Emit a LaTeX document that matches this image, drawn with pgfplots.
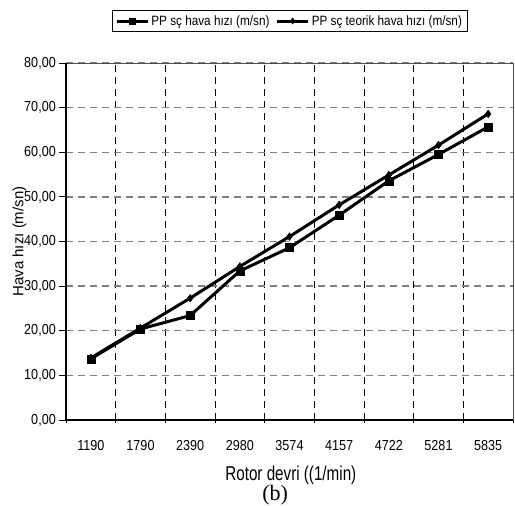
\documentclass[border=0pt]{standalone}
\usepackage{pgfplots}
\pgfplotsset{compat=1.18}
\usepackage{fontspec}
\setmainfont{Liberation Sans}[FakeStretch=0.87]
\newfontfamily\plainsans{Liberation Sans}
\newfontfamily\serifb{Liberation Serif}

\begin{document}
\begin{tikzpicture}
\useasboundingbox (-66pt,-86pt) rectangle (449pt,420pt);
\begin{axis}[
  width=447pt, height=357pt, scale only axis,
  clip=false,
  xmin=-0.5, xmax=8.5,
  ymin=0, ymax=80,
  xtick={-0.5,0.5,...,8.5},
  xticklabels={},
  extra x ticks={0,1,...,8},
  extra x tick labels={1190,1790,2390,2980,3574,4157,4722,5281,5835},
  extra x tick style={major tick length=0pt, grid=none,
    tick label style={anchor=base, yshift=-31pt}},
  ytick={0,10,...,80},
  /pgf/number format/assume math mode=true,
  yticklabel={\pgfmathprintnumber[fixed, fixed zerofill, precision=2, use comma]{\tick}},
  tick label style={font=\fontsize{14.5}{16}\selectfont},
  y tick label style={anchor=east, inner sep=0pt, xshift=-3pt},
  tick align=outside, tick pos=left,
  major tick length=7pt,
  xtick style={black, line width=0.9pt, yshift=3.5pt},
  ytick style={black, line width=0.9pt},
  xmajorgrids, ymajorgrids,
  x grid style={black, line width=0.9pt, dash pattern=on 7pt off 5pt},
  y grid style={gray, line width=1.3pt, dash pattern=on 7pt off 5pt},
  axis line style={draw=gray!60!black, line width=0.7pt},
  xlabel={Rotor devri ((1/min)},
  xlabel style={at={(axis description cs:0.503,-0.154)}, anchor=center,
    font=\fontsize{20}{22}\selectfont\addfontfeatures{FakeStretch=0.76}},
  ylabel={Hava hızı (m/sn)},
  ylabel style={at={(axis description cs:-0.104,0.5)}, anchor=center,
    font=\plainsans\fontsize{15}{17}\selectfont},
  legend columns=2,
  legend style={at={(axis description cs:0.5,1)}, anchor=south, yshift=31pt,
    draw=black, line width=0.7pt, inner sep=3pt,
    font=\fontsize{13.5}{15}\selectfont,
    /tikz/every even column/.append style={column sep=4pt}},
  legend image code/.code={\draw[mark repeat=2,mark phase=2, mark size=3pt]
    plot coordinates {(0cm,0cm) (0.55cm,0cm) (1.1cm,0cm)};},
]
\addplot[black, line width=3pt, mark=square*, mark size=4pt,
  mark options={solid, line width=0.5pt}]
  coordinates {(0,13.7) (1,20.4) (2,23.4) (3,33.4) (4,38.6) (5,45.9) (6,53.6) (7,59.5) (8,65.7)};
\addlegendentry{PP sç hava hızı (m/sn)}
\addplot[black, line width=3pt, mark=diamond*, mark size=3.8pt,
  mark options={solid, line width=0.5pt}]
  coordinates {(0,13.9) (1,20.6) (2,27.3) (3,34.4) (4,41.1) (5,48.2) (6,54.9) (7,61.6) (8,68.6)};
\addlegendentry{PP sç teorik hava hızı (m/sn)}
% heavy left and bottom axis lines
\draw[black, line width=2pt] (rel axis cs:0,1) -- (rel axis cs:0,0) -- (rel axis cs:1,0);
\node[font=\serifb\fontsize{22}{24}\selectfont] at (rel axis cs:0.468,0) [yshift=-75pt] {(b)};
\end{axis}
\end{tikzpicture}
\end{document}
